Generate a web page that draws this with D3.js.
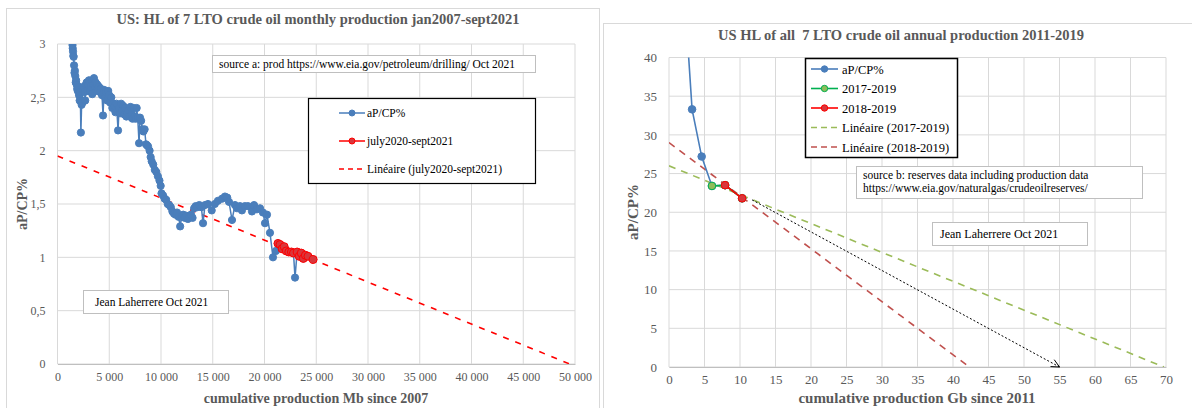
<!DOCTYPE html>
<html>
<head>
<meta charset="utf-8">
<script src="https://cdn.jsdelivr.net/npm/d3@7"></script>
<style>
  body { margin: 0; background: #fff; }
  text { font-family: "Liberation Serif", "Times New Roman", serif; }
</style>
</head>
<body>
<svg id="chart" width="1192" height="408"></svg>
<script>
// ---- data: left chart (monthly, cumulative Mb vs aP/CP%) ----
var leftBlue = [
  [1450,2.99],[1470,2.96],[1500,2.93],[1530,2.89],[1560,2.88],[1600,2.80],[1640,2.73],[1680,2.75],
  [1720,2.70],[1760,2.64],[1800,2.66],[1850,2.62],[1900,2.58],[1960,2.56],[2020,2.60],[2080,2.52],
  [2140,2.47],[2200,2.55],[2260,2.17],[2330,2.43],[2400,2.45],[2470,2.56],[2540,2.60],[2610,2.55],
  [2680,2.47],[2750,2.62],[2820,2.64],[2890,2.56],[2960,2.62],[3040,2.66],[3120,2.56],[3200,2.60],
  [3280,2.65],[3360,2.53],[3440,2.62],[3520,2.68],[3600,2.60],[3680,2.64],[3760,2.56],[3840,2.62],
  [3920,2.58],[4000,2.60],[4100,2.55],[4200,2.58],[4300,2.52],[4400,2.33],[4500,2.57],[4600,2.50],
  [4700,2.55],[4800,2.47],[4900,2.56],[5000,2.52],[5100,2.45],[5200,2.50],[5300,2.40],[5400,2.44],
  [5500,2.42],[5600,2.36],[5700,2.44],[5850,2.19],[5950,2.40],[6050,2.35],[6150,2.44],[6250,2.38],
  [6350,2.42],[6450,2.34],[6550,2.40],[6650,2.32],[6750,2.36],[6850,2.38],[6950,2.32],[7050,2.41],
  [7150,2.34],[7250,2.30],[7350,2.40],[7450,2.32],[7550,2.30],[7650,2.40],[7750,2.31],[7880,2.07],
  [7970,2.31],[8080,2.28],[8200,2.20],[8300,2.18],[8420,2.20],[8550,2.06],[8650,2.05],[8750,2.04],
  [8900,2.00],[9000,1.94],[9100,1.90],[9250,1.87],[9400,1.82],[9550,1.80],[9700,1.76],[9850,1.72],
  [9970,1.67],[10050,1.60],[10200,1.58],[10350,1.55],[10500,1.54],[10650,1.50],[10800,1.49],[10950,1.47],
  [11100,1.43],[11250,1.41],[11400,1.40],[11550,1.42],[11700,1.38],[11850,1.29],[12000,1.38],[12150,1.40],
  [12300,1.37],[12450,1.39],[12600,1.36],[12750,1.38],[12900,1.40],[13050,1.37],[13200,1.46],[13350,1.48],
  [13500,1.47],[13700,1.49],[13900,1.47],[14060,1.32],[14250,1.49],[14540,1.50],[14900,1.44],[15200,1.50],
  [15500,1.53],[15900,1.55],[16180,1.57],[16400,1.56],[16570,1.52],[16860,1.35],[17150,1.49],[17340,1.46],
  [17630,1.48],[17820,1.44],[18100,1.48],[18400,1.48],[18790,1.43],[18990,1.49],[19270,1.45],[19570,1.46],
  [19850,1.42],[20050,1.32],[20240,1.40],[20530,1.23],[20820,1.00],[21100,1.06]
];
// july2020-sept2021
var leftRed = [
  [21300,1.13],[21500,1.12],[21700,1.08],[21900,1.10],[22100,1.06],[22350,1.05],[22600,1.05],[22800,1.04],
  [23150,1.05],[23350,1.01],[23550,1.04],[23750,0.99],[23950,1.02],[24200,1.01],[24700,0.98]
];
var leftDip = [[22950,0.81]];
// Linéaire (july2020-sept2021): [x, y] ends
var leftTrend = [[0,1.95],[49500,0]];
var leftXTicks = [0,5000,10000,15000,20000,25000,30000,35000,40000,45000,50000];
var leftYTicks = [0,0.5,1,1.5,2,2.5,3];
var leftLegend = ["aP/CP%", "july2020-sept2021", "Linéaire (july2020-sept2021)"];

// ---- data: right chart (annual, cumulative Gb vs aP/CP%) ----
var rightBlue = [[0.5,120],[1.2,70],[2.2,48],[3.25,33.3],[4.6,27.2],[6.05,23.4],[7.9,23.5],[10.3,21.8]];
var rightGreen = [[6.05,23.4],[7.9,23.5],[10.3,21.8]];
var rightRed = [[7.9,23.5],[10.3,21.8]];
var trendGreen = [[0,26],[69.7,0]];
var trendRed = [[0,29],[42.3,0]];
var arrowPts = [[11.7,21.6],[55,0]];
var rightXTicks = d3.range(0, 71, 5);
var rightYTicks = d3.range(0, 41, 5);
var rightLegend = ["aP/CP%", "2017-2019", "2018-2019", "Linéaire (2017-2019)", "Linéaire (2018-2019)"];

var svg = d3.select("#chart");
var grey = "#595959";
var blue = "#4a7ebb";

// panel frames
svg.append("rect").attr("x", 6.5).attr("y", 8.5).attr("width", 593).attr("height", 410)
  .attr("fill", "#fff").attr("stroke", "#d9d9d9");
svg.append("rect").attr("x", 603.5).attr("y", 23.5).attr("width", 600).attr("height", 400)
  .attr("fill", "#fff").attr("stroke", "#d9d9d9");

// shared helpers
function grid(g, x, y, xt, yt, w, h) {
  g.selectAll(".gx").data(xt).enter().append("line")
    .attr("x1", d => x(d)).attr("x2", d => x(d)).attr("y1", 0).attr("y2", h)
    .attr("stroke", "#d9d9d9").attr("stroke-width", 1);
  g.selectAll(".gy").data(yt).enter().append("line")
    .attr("x1", 0).attr("x2", w).attr("y1", d => y(d)).attr("y2", d => y(d))
    .attr("stroke", "#d9d9d9").attr("stroke-width", 1);
}

function axes(g, x, y, xt, yt, h, xf, yf, fs) {
  var bottom = g.append("g").attr("transform", `translate(0,${h})`)
    .call(d3.axisBottom(x).tickValues(xt).tickSize(0).tickPadding(8).tickFormat(xf));
  var left = g.append("g")
    .call(d3.axisLeft(y).tickValues(yt).tickSize(0).tickPadding(12).tickFormat(yf));
  [bottom, left].forEach(function(a) {
    a.select(".domain").attr("stroke", "#bfbfbf");
    a.selectAll("text").attr("fill", grey).style("font-size", fs + "px")
      .style("font-family", '"Liberation Serif", serif');
  });
  left.select(".domain").remove();
}

function marker(g, x, y, r, fill, stroke) {
  g.append("circle").attr("cx", x).attr("cy", y).attr("r", r)
    .attr("fill", fill).attr("stroke", stroke).attr("stroke-width", 1);
}

function box(parent, x, y, w, h, stroke, sw) {
  parent.append("rect").attr("x", x).attr("y", y).attr("width", w).attr("height", h)
    .attr("fill", "#fff").attr("stroke", stroke).attr("stroke-width", sw);
}

// ================= LEFT CHART =================
var L = { left: 57.5, top: 44, width: 517.5, height: 320 };
var lg = svg.append("g").attr("transform", `translate(${L.left},${L.top})`);
var lx = d3.scaleLinear().domain([0, 50000]).range([0, L.width]);
var ly = d3.scaleLinear().domain([0, 3]).range([L.height, 0]);

grid(lg, lx, ly, leftXTicks, leftYTicks, L.width, L.height);
axes(lg, lx, ly, leftXTicks, leftYTicks, L.height,
  d => d3.format(",")(d).replace(",", " "),
  d => String(d).replace(".", ","), 12);

svg.append("defs").append("clipPath").attr("id", "clipL").append("rect")
  .attr("width", L.width).attr("height", L.height);
svg.select("defs").append("clipPath").attr("id", "clipR").append("rect")
  .attr("width", 497).attr("height", 309.5);

var leftLine = d3.line().x(d => lx(d[0])).y(d => ly(d[1]));
var blueAll = leftBlue.concat(leftRed, leftDip).sort((a, b) => a[0] - b[0]);

var lplot = lg.append("g").attr("clip-path", "url(#clipL)");
lplot.append("path").datum(leftTrend).attr("d", leftLine)
  .attr("fill", "none").attr("stroke", "#ff0000").attr("stroke-width", 1.6)
  .attr("stroke-dasharray", "6,7");
lplot.append("path").datum(blueAll).attr("d", leftLine)
  .attr("fill", "none").attr("stroke", blue).attr("stroke-width", 1.5);
lplot.selectAll(".bdot").data(blueAll).enter().append("circle")
  .attr("cx", d => lx(d[0])).attr("cy", d => ly(d[1])).attr("r", 3.6)
  .attr("fill", blue).attr("stroke", blue);
lplot.append("path").datum(leftRed).attr("d", leftLine)
  .attr("fill", "none").attr("stroke", "#ff0000").attr("stroke-width", 1.5);
lplot.selectAll(".rdot").data(leftRed).enter().append("circle")
  .attr("cx", d => lx(d[0])).attr("cy", d => ly(d[1])).attr("r", 4)
  .attr("fill", "#d9363b").attr("stroke", "#ff0000").attr("stroke-width", 1);

// titles
svg.append("text").attr("x", 318).attr("y", 24).attr("text-anchor", "middle")
  .attr("fill", grey).style("font-size", "14.5px").style("font-weight", "bold")
  .text("US: HL of 7 LTO crude oil monthly production jan2007-sept2021");
svg.append("text").attr("x", 316).attr("y", 403).attr("text-anchor", "middle")
  .attr("fill", grey).style("font-size", "14px").style("font-weight", "bold")
  .text("cumulative production Mb since 2007");
svg.append("text").attr("transform", "translate(27,204) rotate(-90)").attr("text-anchor", "middle")
  .attr("fill", grey).style("font-size", "14px").style("font-weight", "bold")
  .text("aP/CP%");

// source box
box(svg, 212.5, 55.5, 323, 17, "#bfbfbf", 1);
svg.append("text").attr("x", 219).attr("y", 68).attr("fill", "#000").style("font-size", "11.5px")
  .text("source a: prod https://www.eia.gov/petroleum/drilling/ Oct 2021");

// legend
box(svg, 308.5, 98.5, 227, 85, "#000", 1.2);
leftLegend.forEach(function(name, i) {
  var yy = 113 + i * 28;
  var ln = svg.append("line").attr("x1", 339).attr("x2", 365).attr("y1", yy).attr("y2", yy)
    .attr("stroke-width", 1.5);
  if (i === 0) { ln.attr("stroke", blue); marker(svg, 352, yy, 3, blue, blue); }
  if (i === 1) { ln.attr("stroke", "#ff0000"); marker(svg, 352, yy, 3, "#d9363b", "#ff0000"); }
  if (i === 2) { ln.attr("stroke", "#ff0000").attr("stroke-dasharray", "5,4"); }
  svg.append("text").attr("x", 367).attr("y", yy + 4).attr("fill", "#000")
    .style("font-size", "11.5px").text(name);
});

// author box
box(svg, 83.5, 290.5, 145, 23, "#bfbfbf", 1);
svg.append("text").attr("x", 95).attr("y", 306).attr("fill", "#000").style("font-size", "11.5px")
  .text("Jean Laherrere Oct 2021");

// ================= RIGHT CHART =================
var R = { left: 669, top: 57.5, width: 497, height: 309.5 };
var rg = svg.append("g").attr("transform", `translate(${R.left},${R.top})`);
var rx = d3.scaleLinear().domain([0, 70]).range([0, R.width]);
var ry = d3.scaleLinear().domain([0, 40]).range([R.height, 0]);

grid(rg, rx, ry, rightXTicks, rightYTicks, R.width, R.height);
axes(rg, rx, ry, rightXTicks, rightYTicks, R.height, d => d, d => d, 13);

var rightLine = d3.line().x(d => rx(d[0])).y(d => ry(d[1]));
var rplot = rg.append("g").attr("clip-path", "url(#clipR)");

rplot.append("path").datum(trendGreen).attr("d", rightLine)
  .attr("fill", "none").attr("stroke", "#9bbb59").attr("stroke-width", 1.6)
  .attr("stroke-dasharray", "7,6");
rplot.append("path").datum(trendRed).attr("d", rightLine)
  .attr("fill", "none").attr("stroke", "#c0504d").attr("stroke-width", 1.6)
  .attr("stroke-dasharray", "7,6");

// dotted arrow
var a0 = arrowPts[0], a1 = arrowPts[1];
rg.append("path").datum(arrowPts).attr("d", rightLine)
  .attr("fill", "none").attr("stroke", "#000").attr("stroke-width", 1)
  .attr("stroke-dasharray", "2,2");
var ang = Math.atan2(ry(a1[1]) - ry(a0[1]), rx(a1[0]) - rx(a0[0]));
[-0.45, 0.45].forEach(function(da) {
  rg.append("line").attr("x1", rx(a1[0])).attr("y1", ry(a1[1]))
    .attr("x2", rx(a1[0]) - 9 * Math.cos(ang + da)).attr("y2", ry(a1[1]) - 9 * Math.sin(ang + da))
    .attr("stroke", "#000").attr("stroke-width", 1);
});

rplot.append("path").datum(rightBlue).attr("d", rightLine)
  .attr("fill", "none").attr("stroke", blue).attr("stroke-width", 1.6);
rplot.selectAll(".rb").data(rightBlue).enter().append("circle")
  .attr("cx", d => rx(d[0])).attr("cy", d => ry(d[1])).attr("r", 3.8)
  .attr("fill", blue).attr("stroke", blue);
rplot.append("path").datum(rightGreen).attr("d", rightLine)
  .attr("fill", "none").attr("stroke", "#00b050").attr("stroke-width", 1.6);
rplot.selectAll(".rg").data(rightGreen).enter().append("circle")
  .attr("cx", d => rx(d[0])).attr("cy", d => ry(d[1])).attr("r", 3.8)
  .attr("fill", "#8fbc5a").attr("stroke", "#00b050");
rplot.append("path").datum(rightRed).attr("d", rightLine)
  .attr("fill", "none").attr("stroke", "#ff0000").attr("stroke-width", 1.6);
rplot.selectAll(".rr").data(rightRed).enter().append("circle")
  .attr("cx", d => rx(d[0])).attr("cy", d => ry(d[1])).attr("r", 3.8)
  .attr("fill", "#d9363b").attr("stroke", "#ff0000");

svg.append("text").attr("x", 901).attr("y", 40).attr("text-anchor", "middle")
  .attr("fill", grey).style("font-size", "14.5px").style("font-weight", "bold")
  .text("US HL of all  7 LTO crude oil annual production 2011-2019").attr("xml:space", "preserve")
  .style("white-space", "pre");
svg.append("text").attr("x", 917).attr("y", 403).attr("text-anchor", "middle")
  .attr("fill", grey).style("font-size", "15px").style("font-weight", "bold")
  .text("cumulative production Gb since 2011");
svg.append("text").attr("transform", "translate(638,212) rotate(-90)").attr("text-anchor", "middle")
  .attr("fill", grey).style("font-size", "15px").style("font-weight", "bold")
  .text("aP/CP%");

// legend
box(svg, 805.5, 58.5, 152, 99, "#000", 1.5);
rightLegend.forEach(function(name, i) {
  var yy = 69 + i * 19.5;
  var ln = svg.append("line").attr("x1", 811).attr("x2", 838).attr("y1", yy).attr("y2", yy)
    .attr("stroke-width", 1.6);
  if (i === 0) { ln.attr("stroke", blue); marker(svg, 824.5, yy, 3.2, blue, blue); }
  if (i === 1) { ln.attr("stroke", "#00b050"); marker(svg, 824.5, yy, 3.2, "#8fbc5a", "#00b050"); }
  if (i === 2) { ln.attr("stroke", "#ff0000"); marker(svg, 824.5, yy, 3.2, "#d9363b", "#ff0000"); }
  if (i === 3) { ln.attr("stroke", "#9bbb59").attr("stroke-dasharray", "6,4"); }
  if (i === 4) { ln.attr("stroke", "#c0504d").attr("stroke-dasharray", "6,4"); }
  svg.append("text").attr("x", 842).attr("y", yy + 4.5).attr("fill", "#000")
    .style("font-size", "12.5px").text(name);
});

// source b box
box(svg, 856.5, 166.5, 286, 32, "#bfbfbf", 1);
svg.append("text").attr("x", 863).attr("y", 179).attr("fill", "#000").style("font-size", "11.5px")
  .text("source b: reserves data including production data");
svg.append("text").attr("x", 863).attr("y", 192).attr("fill", "#000").style("font-size", "11.5px")
  .text("https://www.eia.gov/naturalgas/crudeoilreserves/");

// author box
box(svg, 932.5, 222.5, 155, 23, "#bfbfbf", 1);
svg.append("text").attr("x", 940).attr("y", 238).attr("fill", "#000").style("font-size", "12px")
  .text("Jean Laherrere Oct 2021");
</script>
</body>
</html>
